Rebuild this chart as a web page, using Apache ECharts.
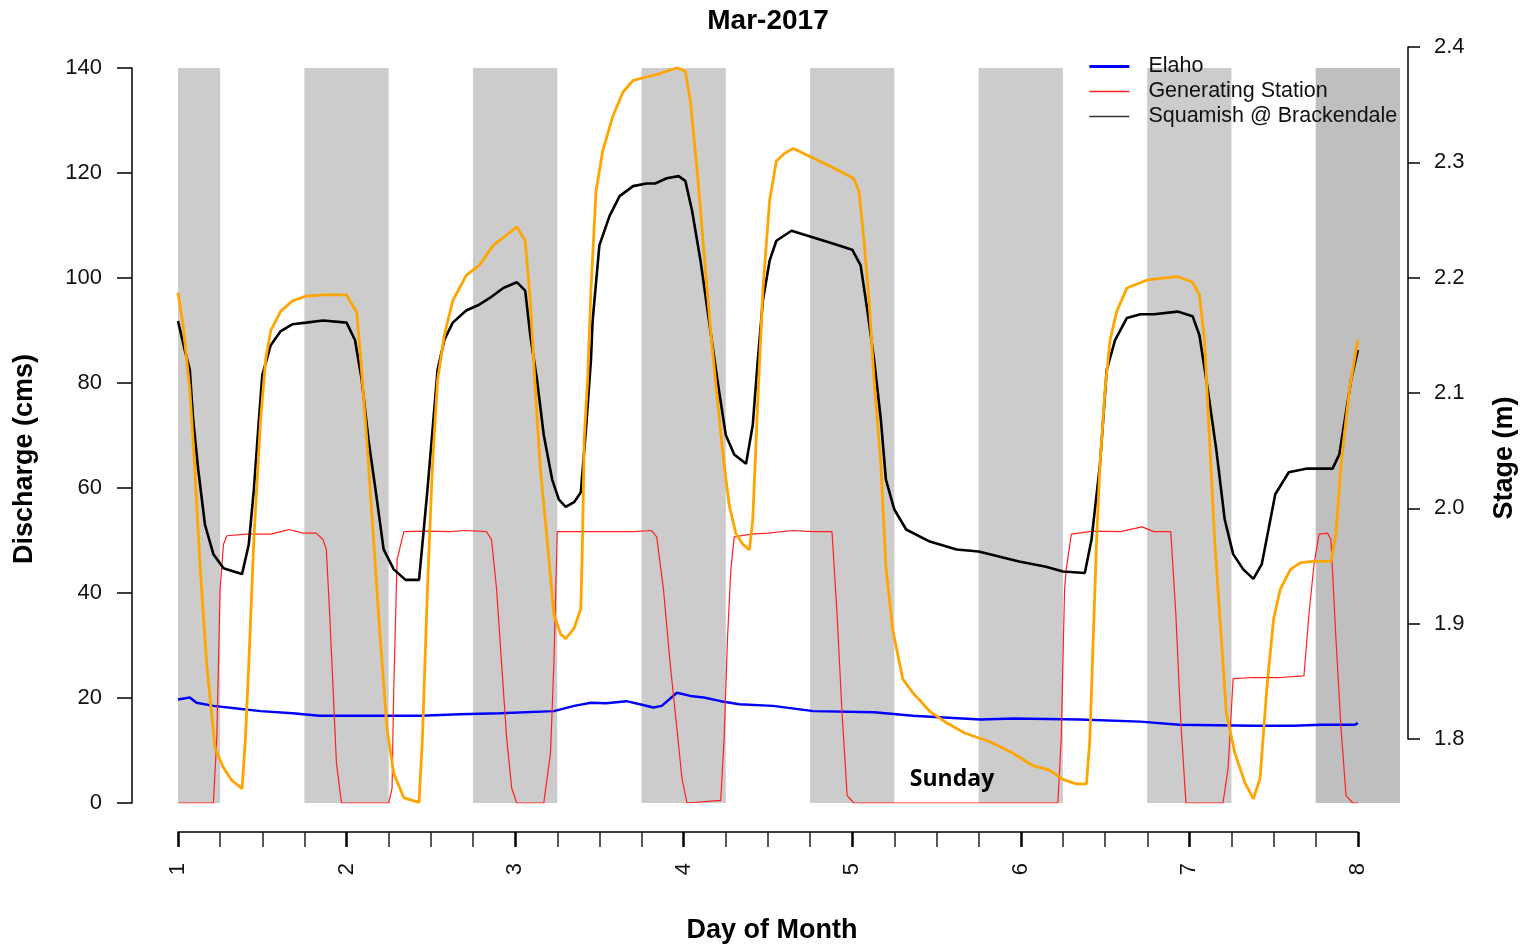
<!DOCTYPE html>
<html>
<head>
<meta charset="utf-8">
<script src="https://cdn.jsdelivr.net/npm/echarts@6/dist/echarts.min.js"></script>
<style>
  html, body { margin: 0; padding: 0; background: #ffffff; }
  #chart { width: 1525px; height: 948px; }
</style>
</head>
<body>
<div id="chart"></div>
<script>
// ---- Data (day of month, value) ----
const titleText = 'Mar-2017';
const xTickLabels = ['1', '2', '3', '4', '5', '6', '7', '8'];

// Night-time shading (day of month)
const nightStart = [1.00, 1.75, 2.75, 3.75, 4.75, 5.75, 6.75, 7.75];
const nightEnd   = [1.25, 2.25, 3.25, 4.25, 5.25, 6.25, 7.25, 8.25];

// Elaho discharge (cms)
const elaho = [[1.00,19.7],[1.07,20.1],[1.11,19.1],[1.21,18.5],[1.35,18.0],[1.49,17.5],[1.68,17.1],[1.84,16.6],[2.08,16.6],[2.44,16.6],[2.67,16.9],[2.91,17.1],[3.23,17.5],[3.35,18.5],[3.45,19.1],[3.54,19.0],[3.66,19.4],[3.74,18.8],[3.82,18.2],[3.87,18.5],[3.96,21.0],[4.04,20.4],[4.12,20.1],[4.22,19.4],[4.33,18.8],[4.53,18.5],[4.77,17.5],[5.13,17.3],[5.36,16.6],[5.76,15.9],[5.96,16.1],[6.35,15.9],[6.71,15.5],[6.94,14.9],[7.38,14.7],[7.62,14.7],[7.78,14.9],[7.98,14.9],[8.00,15.2]];

// Generating Station discharge (cms)
const genStation = [[1.00,0],[1.21,0],[1.23,12.3],[1.25,40.8],[1.27,49.3],[1.29,50.9],[1.41,51.2],[1.55,51.2],[1.61,51.7],[1.66,52.1],[1.74,51.4],[1.82,51.4],[1.86,50.2],[1.88,48.3],[1.90,36],[1.92,21.8],[1.94,7.6],[1.97,0],[2.25,0],[2.27,2.8],[2.28,21.8],[2.30,46.4],[2.34,51.7],[2.47,51.8],[2.61,51.7],[2.71,51.9],[2.83,51.7],[2.86,50.2],[2.89,40.8],[2.92,26.5],[2.95,12.3],[2.98,2.8],[3.01,0],[3.17,0],[3.21,9.5],[3.23,26.5],[3.25,51.7],[3.50,51.7],[3.70,51.7],[3.81,51.9],[3.84,50.7],[3.88,40.8],[3.92,26.5],[3.96,14.2],[3.99,4.7],[4.02,0],[4.22,0.5],[4.24,12.3],[4.26,31.3],[4.28,44.5],[4.30,50.7],[4.40,51.2],[4.50,51.4],[4.65,51.9],[4.77,51.7],[4.88,51.7],[4.91,36],[4.94,17],[4.97,1.4],[5.01,0],[6.22,0],[6.24,12.3],[6.26,40.8],[6.27,44.5],[6.30,51.2],[6.43,51.8],[6.59,51.7],[6.72,52.6],[6.79,51.7],[6.89,51.7],[6.92,36],[6.95,15.2],[6.98,0],[7.20,0],[7.23,6.6],[7.26,23.7],[7.38,23.9],[7.54,23.9],[7.68,24.2],[7.71,36],[7.74,45.5],[7.77,51.2],[7.82,51.4],[7.84,50.2],[7.87,31.3],[7.90,14.2],[7.93,1.4],[7.97,0],[8.00,0]];

// Squamish @ Brackendale discharge (cms)
const squamish = [[1.00,91.8],[1.04,86.3],[1.07,82.5],[1.09,73],[1.12,63.5],[1.16,53],[1.21,47.4],[1.27,44.7],[1.33,44.1],[1.38,43.6],[1.42,49.3],[1.45,59.7],[1.48,73],[1.50,81.5],[1.55,87.2],[1.61,89.9],[1.68,91.2],[1.76,91.5],[1.86,91.9],[2.00,91.5],[2.05,88.2],[2.09,80.6],[2.13,69.2],[2.18,57.8],[2.22,48.3],[2.28,44.5],[2.35,42.5],[2.43,42.5],[2.45,49.3],[2.48,59.7],[2.51,71],[2.54,82.5],[2.58,88.2],[2.63,91.5],[2.71,93.8],[2.78,94.8],[2.85,96.2],[2.93,98.1],[3.01,99.2],[3.06,97.6],[3.09,89.1],[3.13,80.6],[3.17,70.1],[3.22,61.6],[3.26,57.8],[3.30,56.4],[3.35,57.3],[3.39,59.2],[3.42,71],[3.45,84.4],[3.46,91.9],[3.50,106.2],[3.56,111.8],[3.62,115.6],[3.70,117.5],[3.78,118.0],[3.83,118.0],[3.90,119.0],[3.97,119.4],[4.01,118.5],[4.05,112.8],[4.10,103.3],[4.15,91.9],[4.20,80.6],[4.25,70.1],[4.30,66.4],[4.37,64.6],[4.41,72],[4.44,84.4],[4.47,95.7],[4.51,103.3],[4.55,107.1],[4.64,109.0],[4.75,107.9],[4.88,106.6],[5.00,105.4],[5.05,102.4],[5.09,93.8],[5.13,84.4],[5.17,73],[5.20,61.6],[5.25,55.9],[5.32,52.1],[5.46,49.8],[5.62,48.3],[5.75,47.9],[5.99,46],[6.15,45],[6.25,44.1],[6.38,43.8],[6.42,50.2],[6.47,64.5],[6.51,82.5],[6.56,88.2],[6.63,92.4],[6.71,93.1],[6.79,93.1],[6.93,93.6],[7.02,92.7],[7.06,89.1],[7.11,78.7],[7.16,67.3],[7.21,54],[7.26,47.4],[7.32,44.5],[7.38,42.7],[7.43,45.5],[7.51,58.8],[7.59,63],[7.70,63.7],[7.85,63.7],[7.89,66.4],[7.96,80.6],[8.00,86.3]];

// Stage (m), right axis
const stage = [[1.00,2.187],[1.03,2.159],[1.07,2.103],[1.10,2.034],[1.13,1.952],[1.17,1.865],[1.22,1.792],[1.27,1.775],[1.32,1.764],[1.38,1.757],[1.40,1.800],[1.42,1.865],[1.45,1.973],[1.49,2.077],[1.52,2.129],[1.55,2.154],[1.61,2.171],[1.68,2.180],[1.76,2.184],[1.86,2.185],[2.00,2.185],[2.06,2.170],[2.08,2.137],[2.12,2.060],[2.16,1.973],[2.20,1.887],[2.24,1.809],[2.28,1.770],[2.34,1.749],[2.43,1.745],[2.45,1.800],[2.48,1.930],[2.51,2.038],[2.54,2.111],[2.58,2.150],[2.63,2.180],[2.71,2.202],[2.79,2.211],[2.87,2.228],[2.95,2.237],[3.01,2.244],[3.06,2.232],[3.09,2.180],[3.12,2.103],[3.15,2.034],[3.19,1.973],[3.23,1.908],[3.27,1.891],[3.30,1.887],[3.35,1.896],[3.39,1.913],[3.40,1.973],[3.41,2.060],[3.43,2.111],[3.45,2.189],[3.48,2.275],[3.52,2.310],[3.58,2.340],[3.64,2.361],[3.70,2.371],[3.78,2.374],[3.86,2.377],[3.96,2.382],[4.01,2.379],[4.04,2.353],[4.08,2.293],[4.12,2.223],[4.16,2.154],[4.20,2.094],[4.24,2.038],[4.27,2.003],[4.31,1.978],[4.35,1.969],[4.39,1.964],[4.41,1.990],[4.44,2.094],[4.47,2.189],[4.51,2.267],[4.55,2.301],[4.60,2.308],[4.65,2.312],[4.75,2.305],[4.89,2.295],[5.01,2.286],[5.04,2.275],[5.07,2.232],[5.10,2.180],[5.13,2.111],[5.17,2.038],[5.20,1.949],[5.24,1.895],[5.30,1.852],[5.36,1.840],[5.46,1.824],[5.56,1.814],[5.67,1.805],[5.81,1.798],[5.95,1.788],[6.07,1.777],[6.17,1.773],[6.25,1.765],[6.33,1.761],[6.39,1.761],[6.41,1.800],[6.43,1.887],[6.45,1.973],[6.47,2.038],[6.50,2.103],[6.53,2.146],[6.57,2.171],[6.63,2.191],[6.75,2.198],[6.93,2.201],[7.02,2.196],[7.06,2.185],[7.09,2.146],[7.12,2.060],[7.15,1.973],[7.19,1.887],[7.22,1.822],[7.27,1.788],[7.33,1.762],[7.38,1.748],[7.42,1.766],[7.46,1.844],[7.50,1.904],[7.54,1.930],[7.60,1.947],[7.66,1.953],[7.74,1.954],[7.84,1.954],[7.87,1.978],[7.90,2.038],[7.95,2.103],[8.00,2.146]];

// ---- Chart ----
const chart = echarts.init(document.getElementById('chart'), null, { renderer: 'canvas' });

const FONT = '"Liberation Sans", Arial, sans-serif';
const nightAreas = nightStart.map((s, i) => [
  { xAxis: s, itemStyle: { color: i === nightStart.length - 1 ? '#bfbfbf' : '#cccccc' } },
  { xAxis: nightEnd[i] }
]);

const option = {
  animation: false,
  backgroundColor: '#ffffff',
  textStyle: { fontFamily: FONT },
  grid: [
    { left: 178, right: 125, top: 68, bottom: 145 },   // data grid
    { left: 178, right: 167, top: 68, bottom: 145 },   // visible day axis
    { left: 178, right: 117, top: 47, bottom: 209 }    // visible stage axis
  ],
  xAxis: [
    { gridIndex: 0, type: 'value', min: 1, max: 8.25, show: false },
    {
      gridIndex: 1, type: 'value', min: 1, max: 8, interval: 1, position: 'bottom', offset: 29,
      axisLine: { show: true, onZero: false, lineStyle: { color: '#000', width: 1.5 } },
      axisTick: { show: true, length: 15, lineStyle: { color: '#000', width: 2.5 } },
      minorTick: { show: true, splitNumber: 4, length: 15, lineStyle: { color: '#222', width: 1.5 } },
      splitLine: { show: false },
      axisLabel: {
        rotate: 90, margin: 31, fontSize: 22, color: '#111', fontFamily: FONT,
        formatter: v => xTickLabels[Math.round(v) - 1] || ''
      }
    },
    { gridIndex: 2, type: 'value', min: 0, max: 1, show: false }
  ],
  yAxis: [
    {
      gridIndex: 0, type: 'value', min: 0, max: 140, interval: 20, position: 'left', offset: 46,
      axisLine: { show: true, onZero: false, lineStyle: { color: '#000', width: 1.5 } },
      axisTick: { show: true, length: 15, lineStyle: { color: '#000', width: 1.5 } },
      splitLine: { show: false },
      axisLabel: { margin: 30, fontSize: 22, color: '#111', fontFamily: FONT }
    },
    { gridIndex: 0, type: 'value', min: 1.7445, max: 2.3818, position: 'right', show: false },
    { gridIndex: 1, type: 'value', min: 0, max: 140, show: false },
    {
      gridIndex: 2, type: 'value', min: 1.8, max: 2.4, interval: 0.1, position: 'right',
      axisLine: { show: true, onZero: false, lineStyle: { color: '#000', width: 1.5 } },
      axisTick: { show: true, length: 12, lineStyle: { color: '#000', width: 1.5 } },
      splitLine: { show: false },
      axisLabel: { margin: 26, fontSize: 22, color: '#111', fontFamily: FONT, formatter: v => v.toFixed(1) }
    }
  ],
  legend: {
    orient: 'vertical', left: 1083, top: 49, itemGap: 0, itemWidth: 40, itemHeight: 12,
    selectedMode: false,
    itemStyle: { opacity: 0 },
    textStyle: { fontSize: 21.5, color: '#111', fontFamily: FONT, lineHeight: 25, padding: [0, 0, 0, 14] },
    data: [
      { name: 'Elaho', lineStyle: { width: 2.8, color: '#0000ff' } },
      { name: 'Generating Station', lineStyle: { width: 1.3, color: '#ff2020' } },
      { name: 'Squamish @ Brackendale', lineStyle: { width: 1.5, color: '#333' } }
    ]
  },
  series: [
    {
      name: 'night', type: 'line', xAxisIndex: 0, yAxisIndex: 0, data: [], z: 1, silent: true,
      markArea: { silent: true, itemStyle: { opacity: 1 }, data: nightAreas }
    },
    {
      name: 'Elaho', type: 'line', xAxisIndex: 0, yAxisIndex: 0, data: elaho, z: 3,
      showSymbol: false, symbol: 'none', color: '#0000ff', lineStyle: { color: '#0000ff', width: 2.5 }
    },
    {
      name: 'Generating Station', type: 'line', xAxisIndex: 0, yAxisIndex: 0, data: genStation, z: 3,
      showSymbol: false, symbol: 'none', color: '#ff2020', lineStyle: { color: '#ff2020', width: 1.2 }
    },
    {
      name: 'Squamish @ Brackendale', type: 'line', xAxisIndex: 0, yAxisIndex: 0, data: squamish, z: 3,
      showSymbol: false, symbol: 'none', color: '#000000', lineStyle: { color: '#000000', width: 2.6 }
    },
    {
      name: 'Stage', type: 'line', xAxisIndex: 0, yAxisIndex: 1, data: stage, z: 4,
      showSymbol: false, symbol: 'none', color: '#ffa500', lineStyle: { color: '#ffa500', width: 2.8 }
    }
  ],
  graphic: [
    { type: 'text', x: 768, y: 21, z: 100,
      style: { text: titleText, font: 'bold 28px ' + FONT, fill: '#000', align: 'center', verticalAlign: 'middle' } },
    { type: 'text', x: 25, y: 459, rotation: Math.PI / 2, z: 100,
      style: { text: 'Discharge (cms)', font: 'bold 27px ' + FONT, fill: '#000', align: 'center', verticalAlign: 'middle' } },
    { type: 'text', x: 1505, y: 458, rotation: Math.PI / 2, z: 100,
      style: { text: 'Stage (m)', font: 'bold 27px ' + FONT, fill: '#000', align: 'center', verticalAlign: 'middle' } },
    { type: 'text', x: 772, y: 931, z: 100,
      style: { text: 'Day of Month', font: 'bold 27px ' + FONT, fill: '#000', align: 'center', verticalAlign: 'middle' } },
    { type: 'text', x: 952, y: 779, z: 100,
      style: { text: 'Sunday', font: 'bold 23px "Open Sans", sans-serif', fill: '#000', align: 'center', verticalAlign: 'middle' } }
  ]
};

chart.setOption(option);
</script>
</body>
</html>
